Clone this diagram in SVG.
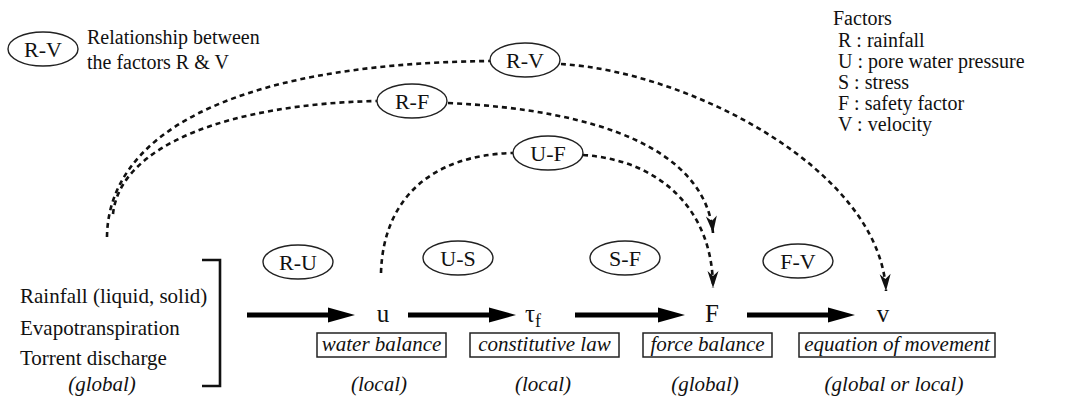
<svg xmlns="http://www.w3.org/2000/svg" xmlns:xlink="http://www.w3.org/1999/xlink" width="1076" height="403" viewBox="0 0 1076 403" font-family="'Liberation Serif', 'Noto Sans CJK SC', serif">
<defs>
<ellipse id="oval" cx="0" cy="0" rx="35" ry="17" fill="#fff" stroke="#222" stroke-width="1.4"/>
<marker id="dhead" markerUnits="userSpaceOnUse" markerWidth="20" markerHeight="12" refX="17" refY="5.5" orient="auto" overflow="visible">
<path d="M0,0 L17,5.5 L0,11 L5,5.5 z" fill="#111"/>
</marker>
<marker id="thead" markerUnits="userSpaceOnUse" markerWidth="28" markerHeight="16" refX="1" refY="7.5" orient="auto" overflow="visible">
<path d="M0,0 L27,7.5 L0,15 z" fill="#000"/>
</marker>
</defs>
<rect width="1076" height="403" fill="#fff"/>

<g id="connectors">
<g fill="none" stroke="#111" stroke-width="2.6" stroke-dasharray="5 4">
<path d="M107,237 C108,140 220,64 490,61"/>
<path d="M561,64 C690,72 880,170 886,291" marker-end="url(#dhead)"/>
<path d="M113,214 C120,145 230,104 377,101"/>
<path d="M448,103 C600,110 705,150 713,233" marker-end="url(#dhead)"/>
<path d="M381,273 C383,200 430,155 513,153"/>
<path d="M583,155 C660,160 713,210 713,288" marker-end="url(#dhead)"/>
</g>
<g fill="none" stroke="#000" stroke-width="5">
<path d="M247,315 H329" marker-end="url(#thead)"/>
<path d="M408,315 H490" marker-end="url(#thead)"/>
<path d="M575,315 H659" marker-end="url(#thead)"/>
<path d="M747,315 H829" marker-end="url(#thead)"/>
</g>
</g>

<g id="legend-rel" fill="#111" font-family="'Liberation Serif', 'Noto Sans CJK SC', serif">
<use xlink:href="#oval" x="43" y="49"/>
<text font-size="22" text-anchor="middle" x="43" y="57">R-V</text>
<text font-size="20" x="87" y="44">Relationship between</text>
<text font-size="20" x="87" y="69">the factors R &amp; V</text>
</g>

<g id="legend-factors" fill="#111" font-size="20" font-family="'Liberation Serif', 'Noto Sans CJK SC', serif">
<text x="833" y="25">Factors</text>
<text x="838" y="47">R : rainfall</text>
<text x="838" y="68">U : pore water pressure</text>
<text x="838" y="89">S : stress</text>
<text x="838" y="110">F : safety factor</text>
<text x="838" y="131">V : velocity</text>
</g>

<g font-family="'Liberation Serif', 'Noto Sans CJK SC', serif" font-size="22" text-anchor="middle" fill="#111">
<g id="node-RV"><use xlink:href="#oval" x="525" y="60"/><text x="525" y="68">R-V</text></g>
<g id="node-RF"><use xlink:href="#oval" x="412" y="101"/><text x="412" y="109">R-F</text></g>
<g id="node-UF"><use xlink:href="#oval" x="548" y="153"/><text x="548" y="161">U-F</text></g>
<g id="node-RU"><use xlink:href="#oval" x="298" y="262"/><text x="298" y="270">R-U</text></g>
<g id="node-US"><use xlink:href="#oval" x="458" y="258"/><text x="458" y="266">U-S</text></g>
<g id="node-SF"><use xlink:href="#oval" x="625" y="258"/><text x="625" y="266">S-F</text></g>
<g id="node-FV"><use xlink:href="#oval" x="798" y="261"/><text x="798" y="269">F-V</text></g>
</g>

<g id="node-R" fill="#111" font-family="'Liberation Serif', 'Noto Sans CJK SC', serif" font-size="21">
<text x="20" y="303">Rainfall (liquid, solid)</text>
<text x="20" y="335">Evapotranspiration</text>
<text x="20" y="365">Torrent discharge</text>
<text font-style="italic" text-anchor="middle" x="102" y="391">(global)</text>
<path d="M202,260 H220 V386 H202" fill="none" stroke="#111" stroke-width="2.6"/>
</g>

<g id="node-u" fill="#111" font-family="'Liberation Serif', 'Noto Sans CJK SC', serif" font-size="21">
<text font-size="25" text-anchor="middle" x="383" y="322">u</text>
<rect x="317" y="333" width="129" height="24" fill="#fff" stroke="#222" stroke-width="1.5"/>
<text font-style="italic" text-anchor="middle" x="381.5" y="351">water balance</text>
<text font-style="italic" text-anchor="middle" x="379" y="391">(local)</text>
</g>

<g id="node-tau" fill="#111" font-family="'Liberation Serif', 'Noto Sans CJK SC', serif" font-size="21">
<text font-size="25" text-anchor="middle" x="533" y="322">&#964;<tspan font-size="18" dy="5">f</tspan></text>
<rect x="470" y="333" width="149" height="24" fill="#fff" stroke="#222" stroke-width="1.5"/>
<text font-style="italic" text-anchor="middle" x="544.5" y="351">constitutive law</text>
<text font-style="italic" text-anchor="middle" x="543" y="391">(local)</text>
</g>

<g id="node-F" fill="#111" font-family="'Liberation Serif', 'Noto Sans CJK SC', serif" font-size="21">
<text font-size="25" text-anchor="middle" x="712" y="322">F</text>
<rect x="643" y="333" width="129" height="24" fill="#fff" stroke="#222" stroke-width="1.5"/>
<text font-style="italic" text-anchor="middle" x="707.5" y="351">force balance</text>
<text font-style="italic" text-anchor="middle" x="705" y="391">(global)</text>
</g>

<g id="node-v" fill="#111" font-family="'Liberation Serif', 'Noto Sans CJK SC', serif" font-size="21">
<text font-size="25" text-anchor="middle" x="883" y="322">v</text>
<rect x="799" y="333" width="196" height="24" fill="#fff" stroke="#222" stroke-width="1.5"/>
<text font-style="italic" text-anchor="middle" x="897" y="351">equation of movement</text>
<text font-style="italic" text-anchor="middle" x="894" y="391">(global or local)</text>
</g>
</svg>
